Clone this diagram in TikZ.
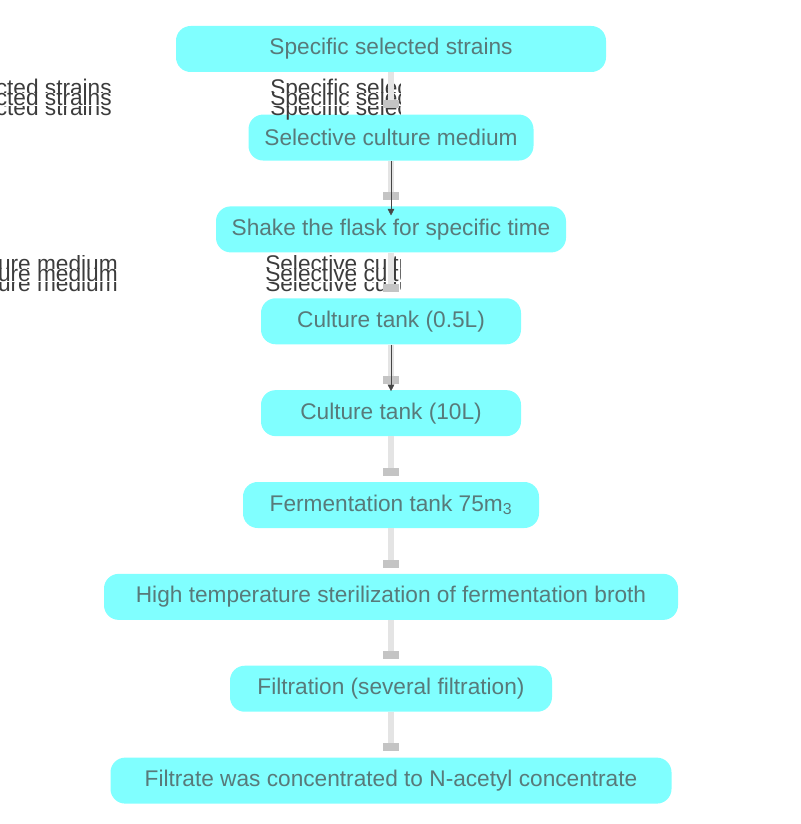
\documentclass[tikz,border=0pt]{standalone}
\usepackage{fontspec}
\setmainfont{Liberation Sans}
\usetikzlibrary{arrows.meta, positioning}
\definecolor{flowCyan}{RGB}{128, 255, 255}
\definecolor{flowText}{RGB}{88, 122, 122}
\definecolor{flowLabel}{RGB}{60, 60, 60}
\definecolor{flowLine}{RGB}{228, 228, 228}
\definecolor{flowHead}{RGB}{196, 196, 196}
\definecolor{flowDark}{RGB}{70, 70, 70}

\begin{document}
\begin{tikzpicture}[
        x=0.75pt, y=-0.75pt,
        node distance=34pt,
        box/.style={rectangle, rounded corners=11pt, fill=flowCyan, minimum height=34.5pt, align=center, text=flowText, font=\fontsize{17}{20}\selectfont},
        edgetext/.style={inner sep=0pt, text=flowLabel, font=\fontsize{17}{20}\selectfont},
        link/.style={-{Square[length=6pt, width=12pt, color=flowHead]}, line width=4.5pt, flowLine, shorten >=4.5pt},
        arrow/.style={-{Triangle[length=5pt, width=5pt]}, thin, flowDark}
    ]
        \useasboundingbox (0,0) rectangle (800,824);

        \node[box, minimum width=322.5pt] (strains) at (391,49) {Specific selected strains};
        \node[box, minimum width=213.75pt, below=31.5pt of strains] (medium) {Selective culture medium};
        \node[box, minimum width=262.5pt, below=of medium] (flask) {Shake the flask for specific time};
        \node[box, minimum width=195pt, below=of flask] (tanksmall) {Culture tank (0.5L)};
        \node[box, minimum width=195pt, below=of tanksmall] (tankmid) {Culture tank (10L)};
        \node[box, minimum width=222pt, below=of tankmid] (fermenter) {Fermentation tank 75m\textsubscript{3}};
        \node[box, minimum width=430.5pt, below=of fermenter] (sterile) {High temperature sterilization of fermentation broth};
        \node[box, minimum width=241.5pt, below=of sterile] (filtration) {Filtration (several filtration)};
        \node[box, minimum width=420.75pt, below=of filtration] (concentrate) {Filtrate was concentrated to N-acetyl concentrate};

        % edge labels, printed in three cut bands
        \foreach \txt/\ybase/\xleft/\xmid in {Specific selected strains/105/112/270, Selective culture medium/281/118/265}{
            \foreach \dy/\lo/\hi in {-10/-26/-13, 0/-13/1, 10/1/15}{
                \begin{scope}
                    \clip (-200,\ybase+\lo) rectangle (400,\ybase+\hi);
                    \node[edgetext, anchor=base east] (lblleft\dy) at (\xleft,\ybase+\dy) {\txt};
                    \node[edgetext, anchor=base west] (lblmid\dy) at (\xmid,\ybase+\dy) {\txt};
                \end{scope}
            }
        }

        \draw[link] (strains) -- (medium);
        \draw[link] (medium) -- (flask);
        \draw[link] (flask) -- (tanksmall);
        \draw[link] (tanksmall) -- (tankmid);
        \draw[link] (tankmid) -- (fermenter);
        \draw[link] (fermenter) -- (sterile);
        \draw[link] (sterile) -- (filtration);
        \draw[link] (filtration) -- (concentrate);

        \draw[arrow, shorten >=-7pt] (medium) -- (flask);
        \draw[arrow, shorten >=-1pt] (tanksmall) -- (tankmid);
    \end{tikzpicture}
\end{document}
